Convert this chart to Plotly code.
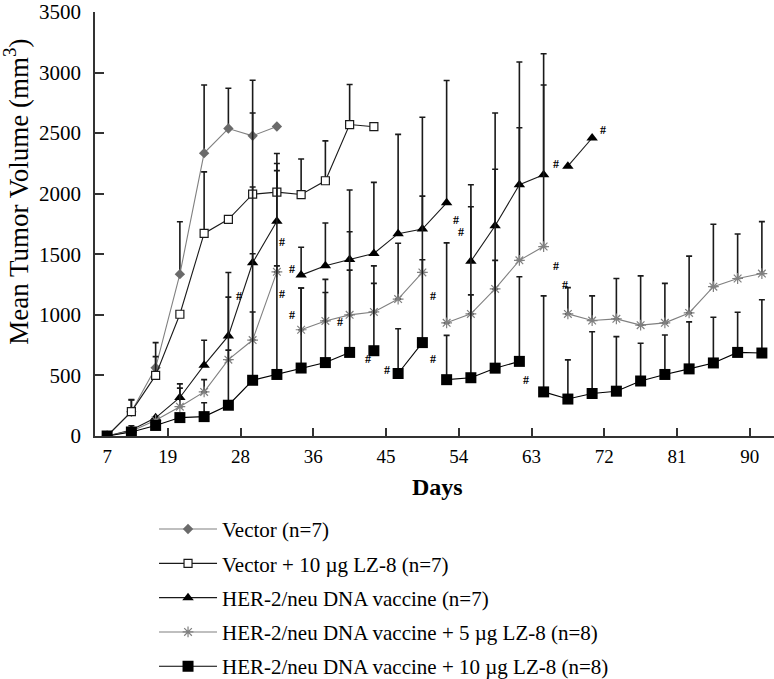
import plotly.graph_objects as go

# ---------------- data ----------------
point_idx = list(range(28))                      # measurement number (category index)
tick_pos = [0, 2.5, 5.5, 8.5, 11.5, 14.5, 17.5, 20.5, 23.5, 26.5]
tick_labels = ["7", "19", "28", "36", "45", "54", "63", "72", "81", "90"]

vector = [0, 200, 563, 1336, 2335, 2538, 2478, 2555]
vector_top = [None, 300, 771, 1768, 2897, 2870, 2937, None]
vector_breaks = []

vec_lz10 = [0, 201, 500, 1005, 1672, 1789, 1996, 2013, 1993, 2107, 2571, 2553]
vec_lz10_top = [None, 297, 655, None, 2180, None, 2666, 2332, 2286, 2436, 2902, None]
vec_lz10_breaks = []

her2 = [0, 50, 150, 318, 585, 826, 1430, 1773, 1328, 1406, 1457, 1507, 1670, 1708,
        1925, 1442, 1735, 2074, 2156, 2227, 2460]
her2_top = [None, None, None, 430, 790, 1350, 2055, 2250, 1558, 1758, 2031, 2094, 2490,
            2631, 2935, 2074, 2666, 3087, 3155, None, None]
her2_breaks = [8, 15, 19]

her2_lz5 = [0, 40, 130, 242, 364, 630, 792, 1355, 877, 950, 1000, 1024, 1130, 1350,
            934, 1008, 1214, 1450, 1564, 1008, 953, 967, 915, 934, 1016, 1233, 1300, 1341]
her2_lz5_top = [None, None, None, 395, 465, 1146, 1504, 2191, 1222, 1293, 1686, 1404, 1591,
                1980, 1594, 1893, 2202, 2544, 2897, 1225, 1157, 1300, 1322, 1260, 1485,
                1748, 1667, 1770]
her2_lz5_breaks = [8, 14, 19]

her2_lz10 = [0, 33, 87, 152, 160, 254, 460, 508, 561, 606, 690, 704, 516, 771, 465, 481,
             560, 616, 364, 305, 351, 370, 454, 508, 554, 603, 690, 685]
her2_lz10_top = [None, 85, None, None, 275, 709, 1024, 1404, 1222, 1184, 1369, 1260, 885,
                 1455, 831, 1165, 1450, 1314, 1157, 628, 861, 820, 766, 834, 942, 980,
                 1021, 1125]
her2_lz10_breaks = [11, 12, 14, 18]

hash_x = [5.45, 7.23, 7.23, 7.64, 7.64, 9.61, 10.74, 11.54, 13.43, 13.43, 14.4, 14.6,
          17.29, 18.49, 18.49, 18.88, 20.43]
hash_y = [1157, 1605, 1170, 1382, 1002, 942, 636, 541, 1157, 636, 1784, 1686, 459,
          2243, 1401, 1247, 2528]

# ---------------- styles ----------------
SERIF = "Liberation Serif"
ERR = "#1a1a1a"

series = [
    dict(name="Vector (n=7)", y=vector, top=vector_top, breaks=vector_breaks,
         line="#808080",
         marker=dict(symbol="diamond", size=8, color="#6a6a6a", line=dict(width=0))),
    dict(name="Vector + 10 \u00b5g LZ-8 (n=7)", y=vec_lz10, top=vec_lz10_top,
         breaks=vec_lz10_breaks, line="#1a1a1a",
         marker=dict(symbol="square", size=8, color="white",
                     line=dict(color="#1a1a1a", width=1.2))),
    dict(name="HER-2/neu DNA vaccine (n=7)", y=her2, top=her2_top, breaks=her2_breaks,
         line="#1a1a1a",
         marker=dict(symbol="triangle-up", size=10, color="black", line=dict(width=0))),
    dict(name="HER-2/neu DNA vaccine + 5 \u00b5g LZ-8 (n=8)", y=her2_lz5, top=her2_lz5_top,
         breaks=her2_lz5_breaks, line="#808080",
         marker=dict(symbol="asterisk-open", size=9,
                     line=dict(color="#7a7a7a", width=1.2))),
    dict(name="HER-2/neu DNA vaccine + 10 \u00b5g LZ-8 (n=8)", y=her2_lz10,
         top=her2_lz10_top, breaks=her2_lz10_breaks, line="#000000",
         marker=dict(symbol="square", size=11, color="black", line=dict(width=0))),
]


def segments(breaks, n):
    bounds = [0] + list(breaks) + [n]
    return [(bounds[k], bounds[k + 1]) for k in range(len(bounds) - 1)]


fig = go.Figure()
for s in series:
    n = len(s["y"])
    for k, (a, b) in enumerate(segments(s["breaks"], n)):
        ys = s["y"][a:b]
        tops = s["top"][a:b]
        err = [(t - v) if (t is not None and v is not None) else 0 for t, v in zip(tops, ys)]
        fig.add_trace(go.Scatter(
            x=point_idx[a:b], y=ys, mode="lines+markers",
            name=s["name"], legendgroup=s["name"], showlegend=(k == 0),
            line=dict(color=s["line"], width=1.1),
            marker=s["marker"],
            error_y=dict(type="data", symmetric=False, array=err,
                         arrayminus=[0] * len(err), color=ERR, thickness=1.6, width=3),
        ))

annotations = [
    dict(x=hx, y=hy, xref="x", yref="y", text="<b>#</b>", showarrow=False,
         font=dict(family=SERIF, size=12, color="black"))
    for hx, hy in zip(hash_x, hash_y)
]
annotations.append(dict(
    x=-0.1155, y=0.575, xref="paper", yref="paper", textangle=-90, showarrow=False,
    text="Mean Tumor Volume (mm<sup>3</sup>)", xanchor="center", yanchor="middle",
    font=dict(family=SERIF, size=27, color="black")))
annotations.append(dict(
    x=0.5037, y=-0.12, xref="paper", yref="paper", showarrow=False,
    text="<b>Days</b>", xanchor="center", yanchor="middle",
    font=dict(family=SERIF, size=24, color="black")))

fig.update_layout(
    width=774, height=679,
    margin=dict(l=95, r=0, t=12, b=243, pad=0, autoexpand=False),
    paper_bgcolor="white", plot_bgcolor="white",
    font=dict(family=SERIF, color="black"),
    showlegend=True,
    legend=dict(
        xref="container", yref="container", x=0.199, y=0.2505,
        xanchor="left", yanchor="top",
        traceorder="grouped", tracegroupgap=4, itemwidth=58,
        font=dict(family=SERIF, size=21, color="black"),
        bgcolor="rgba(0,0,0,0)", borderwidth=0,
    ),
    annotations=annotations,
)

fig.update_xaxes(
    range=[-0.5, 27.5], showgrid=False, zeroline=False,
    showline=True, linecolor="#333333", linewidth=1.5,
    tickmode="array", tickvals=tick_pos, ticktext=tick_labels, ticks="",
    ticklabelstandoff=2,
    tickfont=dict(family=SERIF, size=19, color="black"),
    minor=dict(tickmode="array", tickvals=tick_pos[1:], ticks="inside", ticklen=8,
               tickcolor="#333333", tickwidth=1.5, showgrid=False),
)
fig.update_yaxes(
    range=[0, 3500], dtick=500, showgrid=False, zeroline=False,
    showline=True, linecolor="#333333", linewidth=1.5,
    ticks="inside", ticklen=9, tickcolor="#333333", tickwidth=1.5,
    ticklabelstandoff=8, ticklabeloverflow="allow",
    tickfont=dict(family=SERIF, size=21, color="black"),
)

fig.write_html("out.html", config={"displayModeBar": False},
               post_script="document.body.style.margin='0';")
